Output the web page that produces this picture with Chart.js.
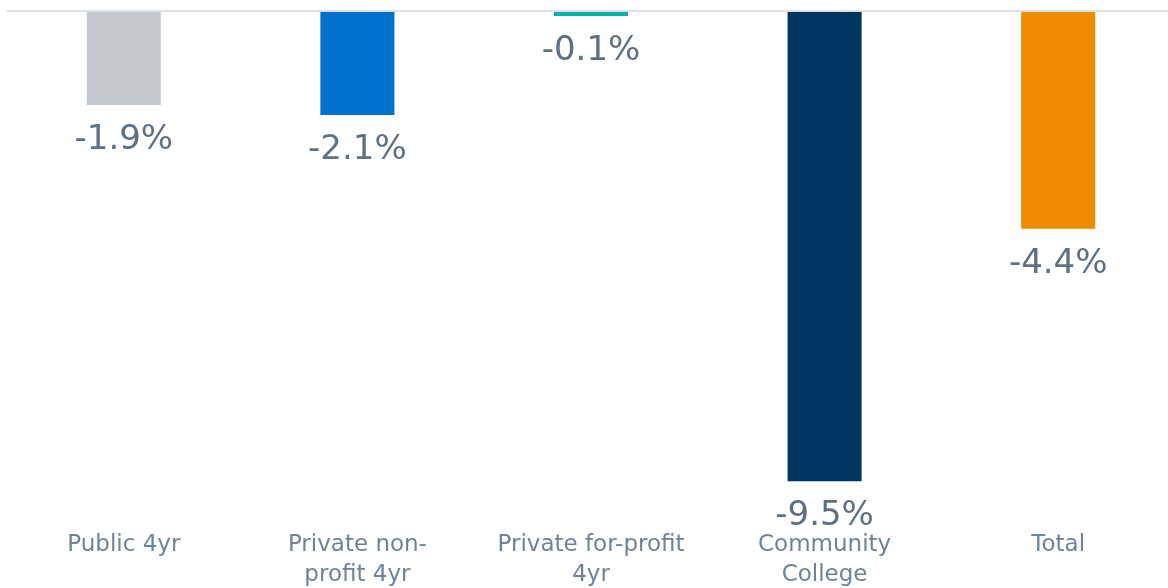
<!DOCTYPE html>
<html lang="en">
<head>
  <meta charset="UTF-8">
  <title>Enrollment change by sector</title>
  <script src="https://cdn.jsdelivr.net/npm/chart.js"></script>
  <style>
    html, body { margin: 0; padding: 0; background: #fff; overflow: hidden; }
    .chart-container { width: 1175px; height: 588px; }
  </style>
</head>
<body>
  <div class="chart-container">
    <canvas id="dataChart"></canvas>
  </div>

  <script>
    // Values
    const categories = ['Public 4yr', ['Private non-', 'profit 4yr'], ['Private for-profit', '4yr'], ['Community', 'College'], 'Total'];
    const changes = [-1.9, -2.1, -0.1, -9.5, -4.4];
    const barColors = ['#c4c8cc', '#0071ce', '#00b2a9', '#003561', '#ee8b00'];

    // draw "-x.x%" under each bar end
    const valueLabels = {
      id: 'valueLabels',
      afterDraw(chart) {
        const ctx = chart.ctx;
        const meta = chart.getDatasetMeta(0);
        ctx.save();
        ctx.font = '34px "DejaVu Sans"';
        ctx.fillStyle = '#5e7083';
        ctx.textAlign = 'center';
        ctx.textBaseline = 'middle';
        meta.data.forEach((bar, i) => {
          ctx.fillText(changes[i].toFixed(1) + '%', bar.x, bar.y + 35);
        });
        ctx.restore();
      }
    };

    const ctx = document.getElementById('dataChart').getContext('2d');
    new Chart(ctx, {
      type: 'bar',
      data: {
        labels: categories,
        datasets: [{
          data: changes,
          backgroundColor: barColors,
          barPercentage: 0.317,
          categoryPercentage: 1
        }]
      },
      options: {
        responsive: true,
        maintainAspectRatio: false,
        animation: false,
        layout: { padding: { left: 7, right: 0, top: 11, bottom: 0 } },
        plugins: {
          legend: { display: false },
          tooltip: { enabled: false }
        },
        scales: {
          x: {
            grid: { display: false },
            border: { display: false },
            afterFit: scale => { scale.height = 82; },
            ticks: {
              color: '#6e8399',
              font: { family: 'DejaVu Sans', size: 23, lineHeight: 1.3 },
              padding: 16,
              maxRotation: 0,
              autoSkip: false
            }
          },
          y: {
            min: -10,
            max: 0,
            ticks: { display: false, stepSize: 10 },
            border: { display: false },
            grid: {
              drawTicks: false,
              color: c => c.tick.value === 0 ? '#dde1e5' : 'rgba(0,0,0,0)',
              lineWidth: 2
            }
          }
        }
      },
      plugins: [valueLabels]
    });
  </script>
</body>
</html>
